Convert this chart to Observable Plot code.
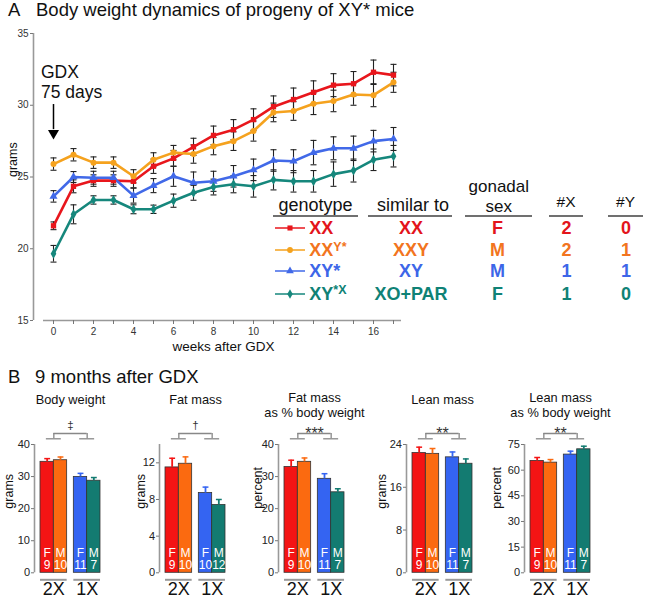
<!DOCTYPE html>
<html><head><meta charset="utf-8">
<script src="https://cdn.jsdelivr.net/npm/d3@7"></script>
<script src="https://cdn.jsdelivr.net/npm/@observablehq/plot@0.6"></script>
<style>
body{margin:0;background:#fff;font-family:"Liberation Sans",Arial,Helvetica,sans-serif;}
#root{position:relative;width:646px;height:597px;overflow:hidden;background:#fff;}
.abs{position:absolute;white-space:nowrap;}
</style></head><body><div id="root"></div>
<script>
// ---------- DATA ----------
const weeks = [0,1,2,3,4,5,6,7,8,9,10,11,12,13,14,15,16,17];
const genotypes = ["XX","XXY*","XY*","XY*X"];
const xxMean  = [21.6,24.35,24.75,24.75,24.7,25.75,26.3,27.1,27.9,28.3,29.0,29.9,30.4,30.9,31.4,31.5,32.3,32.1];
const xxyMean = [25.9,26.55,26.0,26.0,25.05,26.2,26.7,26.6,27.15,27.5,28.2,29.5,29.6,30.1,30.3,30.75,30.7,31.6];
const xyMean  = [23.65,25.0,24.95,24.95,23.7,24.4,25.05,24.6,24.7,25.05,25.5,26.15,26.1,26.7,27.0,27.0,27.5,27.65];
const xyxMean = [19.65,22.4,23.4,23.4,22.75,22.75,23.35,23.9,24.3,24.5,24.35,24.8,24.7,24.7,25.2,25.45,26.2,26.45];
const xxErr  = [0.27,0.45,0.4,0.4,0.45,0.5,0.55,0.6,0.65,0.7,0.75,0.75,0.8,0.8,0.8,0.85,0.85,0.75];
const xxyErr = [0.43,0.43,0.4,0.4,0.46,0.49,0.5,0.64,0.6,0.65,0.7,0.65,0.65,0.75,0.75,0.75,0.8,0.7];
const xyErr  = [0.4,0.38,0.45,0.45,0.52,0.49,0.7,0.75,0.7,0.75,0.75,0.75,0.8,0.85,0.8,0.85,0.75,0.8];
const xyxErr = [0.58,0.66,0.29,0.29,0.31,0.29,0.46,0.52,0.55,0.6,0.75,0.7,0.75,0.75,0.85,0.8,0.75,0.75];

// legend table
const genotypeBase = ["XX","XX","XY*","XY"];
const genotypeSup  = ["","Y*","","*X"];
const similarTo  = ["XX","XXY","XY","XO+PAR"];
const gonadalSex = ["F","M","M","F"];
const numX = [2,2,1,1];
const numY = [0,1,1,0];

// panel B
const barSex = ["F","M","F","M"];
const chromGroups = ["2X","1X"];
const barGroup = ["2X","2X","1X","1X"];
const bodyWeightMean = [34.6,35.1,29.9,28.7];
const bodyWeightErr  = [1.0,1.0,1.1,1.0];
const bodyWeightN    = [9,10,11,7];
const fatMassMean = [11.5,11.9,8.7,7.4];
const fatMassErr  = [1.0,0.75,0.65,0.6];
const fatMassN    = [9,10,10,12];
const fatPctMean = [33.0,34.6,29.3,25.1];
const fatPctErr  = [2.1,1.2,1.6,1.1];
const fatPctN    = [9,10,11,7];
const leanMassMean = [22.4,22.25,21.6,20.4];
const leanMassErr  = [1.1,1.0,1.0,0.9];
const leanMassN    = [9,10,11,7];
const leanPctMean = [65.4,64.4,69.1,72.2];
const leanPctErr  = [2.0,1.8,2.0,1.8];
const leanPctN    = [9,10,11,7];
const panelTitles = ["Body weight","Fat mass","Fat mass\nas % body weight","Lean mass","Lean mass\nas % body weight"];
const panelUnits  = ["grams","grams","percent","grams","percent"];
const panelTicks  = [[0,10,20,30,40],[0,4,8,12],[0,10,20,30,40],[0,8,16,24],[0,15,30,45,60,75]];
const panelMax    = [40,14,40,24,75];
const panelSig    = ["‡","†","***","**","**"];

// ---------- STYLE ----------
const FONT = "'Liberation Sans', Arial, Helvetica, sans-serif";
const lineColors = ["#e8161c","#f5a21e","#4169e8","#16877c"];
const legendTextColors = ["#e3141b","#f27420","#3d66e8","#0f8276"];
const barColors = ["#f41414","#fb6a10","#3464f2","#137b71"];
const symbols = ["square","circle","triangle","diamond"];
const root = document.getElementById("root");

function place(html, o) {
  const d = document.createElement("div");
  const L = o.lh || o.size;
  d.className = "abs";
  d.style.fontSize = o.size + "px";
  d.style.lineHeight = L + "px";
  d.style.top = (o.baseline - ((L - 1.117 * o.size) / 2 + 0.905 * o.size)) + "px";
  if (o.cx != null) { d.style.left = (o.cx - 100) + "px"; d.style.width = "200px"; d.style.textAlign = "center"; }
  else d.style.left = o.left + "px";
  d.style.color = o.color || "#111";
  d.style.fontWeight = o.weight || "normal";
  d.innerHTML = html;
  root.appendChild(d);
}
function put(svg, left, top) {
  svg.style.position = "absolute";
  svg.style.left = left + "px";
  svg.style.top = top + "px";
  root.appendChild(svg);
}

// ---------- PANEL A ----------
const series = [xxMean, xxyMean, xyMean, xyxMean];
const errs = [xxErr, xxyErr, xyErr, xyxErr];
const topData = genotypes.flatMap((g, gi) => weeks.map((w, i) => ({g, week: w, v: series[gi][i], e: errs[gi][i]})));
const cap = 0.15;
const gdx = [{week: 0}];

const topPlot = Plot.plot({
  width: 646, height: 360, marginLeft: 33, marginRight: 243, marginTop: 33, marginBottom: 40,
  x: {domain: [-1, 17.5]},
  y: {domain: [15, 35]},
  color: {domain: genotypes, range: lineColors},
  symbol: {domain: genotypes, range: symbols},
  style: {fontFamily: FONT, fontSize: "10px", color: "#333", background: "transparent", overflow: "visible"},
  marks: [
    Plot.ruleX([-1], {y1: 15, y2: 35, stroke: "#999", strokeWidth: 1.6}),
    Plot.ruleY([15], {x1: -0.5, x2: 17.4, stroke: "#999", strokeWidth: 1.6}),
    Plot.axisY({ticks: [15,20,25,30,35], tickSize: 3, tickPadding: 2, label: null, stroke: "#777"}),
    Plot.axisX({ticks: weeks, tickSize: 4, tickPadding: 3, tickFormat: d => d % 2 ? "" : d, label: null, stroke: "#777"}),
    Plot.text(["grams"], {frameAnchor: "left", rotate: -90, dx: -21, fontSize: 12.5, fill: "#111"}),
    Plot.text([{w: 8.5, t: "weeks after GDX"}], {x: "w", text: "t", frameAnchor: "bottom", lineAnchor: "bottom", dy: 30.7, fontSize: 13.5, fill: "#111"}),
    // error bars
    Plot.ruleX(topData, {x: "week", y1: d => d.v - d.e, y2: d => d.v + d.e, stroke: "#222", strokeWidth: 1.1}),
    Plot.link(topData, {x1: d => d.week - cap, x2: d => d.week + cap, y1: d => d.v + d.e, y2: d => d.v + d.e, stroke: "#222", strokeWidth: 1.1}),
    Plot.link(topData, {x1: d => d.week - cap, x2: d => d.week + cap, y1: d => d.v - d.e, y2: d => d.v - d.e, stroke: "#222", strokeWidth: 1.1}),
    // lines + markers
    Plot.line(topData, {x: "week", y: "v", z: "g", stroke: "g", strokeWidth: 2.6}),
    Plot.dot(topData, {x: "week", y: "v", fill: "g", symbol: "g", r: 3, stroke: "none"}),
    // GDX annotation
    Plot.ruleX(gdx, {x: "week", y1: 30.05, y2: 28.3, stroke: "#000", strokeWidth: 1.5}),
    Plot.dot(gdx, {x: "week", y: 28.06, symbol: "triangle", rotate: 180, r: 4.1, fill: "#000", stroke: "none"}),
    Plot.text(gdx, {x: "week", y: 30.54, text: () => "GDX", dx: -12.6, dy: -20, textAnchor: "start", lineAnchor: "bottom", fontSize: 17.5, fill: "#111"}),
    Plot.text(gdx, {x: "week", y: 30.54, text: () => "75 days", dx: -12.6, textAnchor: "start", lineAnchor: "bottom", fontSize: 17.5, fill: "#111"})
  ]
});
put(topPlot, 0, 0);

place("A", {left: 8, baseline: 17, size: 18.5});
place("Body weight dynamics of progeny of XY* mice", {left: 36, baseline: 17, size: 18.5});

// legend table
const headers = [
  {t: "genotype", cx: 315.5, b: 211.5, s: 18, x1: 273, x2: 358},
  {t: "similar to", cx: 413, b: 211.5, s: 18, x1: 368, x2: 452},
  {t: "gonadal", cx: 498.8, b: 193, s: 17, lh: 14, x1: 465, x2: 532},
  {t: "sex", cx: 498.8, b: 212.5, s: 17, lh: 14},
  {t: "#X", cx: 566, b: 207.5, s: 15.5, x1: 549, x2: 583},
  {t: "#Y", cx: 625.5, b: 207.5, s: 15.5, x1: 608, x2: 643}
];
headers.forEach(h => {
  place(h.t, {cx: h.cx, baseline: h.b, size: h.s, lh: h.lh});
  if (h.x1 != null) {
    const u = document.createElement("div");
    u.className = "abs";
    Object.assign(u.style, {left: h.x1 + "px", width: (h.x2 - h.x1) + "px", top: "214.5px", height: "2px", background: "#707070"});
    root.appendChild(u);
  }
});
const rowBase = [234.3, 256, 277.6, 300.6];
const symbolTypes = {square: d3.symbolSquare, circle: d3.symbolCircle, triangle: d3.symbolTriangle, diamond: d3.symbolDiamond};
genotypes.forEach((g, i) => {
  const b = rowBase[i], col = legendTextColors[i], S = 18;
  const cy = b - 6.4;
  const ns = "http://www.w3.org/2000/svg";
  const s = document.createElementNS(ns, "svg");
  s.setAttribute("width", 34); s.setAttribute("height", 14);
  s.style.position = "absolute"; s.style.left = "272px"; s.style.top = (cy - 7) + "px";
  const ln = document.createElementNS(ns, "line");
  ln.setAttribute("x1", 3); ln.setAttribute("x2", 33); ln.setAttribute("y1", 7); ln.setAttribute("y2", 7);
  ln.setAttribute("stroke", lineColors[i]); ln.setAttribute("stroke-width", 1.5);
  s.appendChild(ln);
  const p = document.createElementNS(ns, "path");
  p.setAttribute("d", d3.symbol(symbolTypes[symbols[i]], 26)());
  p.setAttribute("transform", "translate(18,7)");
  p.setAttribute("fill", lineColors[i]);
  s.appendChild(p);
  root.appendChild(s);
  const sup = genotypeSup[i] ? `<span style="font-size:12.5px;position:relative;top:${i === 3 ? -6.5 : -4.5}px">${genotypeSup[i]}</span>` : "";
  place(genotypeBase[i] + sup, {left: 309.3, baseline: b, size: S, color: col, weight: "bold"});
  place(similarTo[i], {cx: 411, baseline: b, size: S, color: col, weight: "bold"});
  place(gonadalSex[i], {cx: 497.5, baseline: b, size: S, color: col, weight: "bold"});
  place(String(numX[i]), {cx: 566.5, baseline: b, size: S, color: col, weight: "bold"});
  place(String(numY[i]), {cx: 626, baseline: b, size: S, color: col, weight: "bold"});
});

// ---------- PANEL B ----------
place("B", {left: 8, baseline: 383.5, size: 18.5});
place("9 months after GDX", {left: 35, baseline: 384, size: 18.5});

const panelMeans = [bodyWeightMean, fatMassMean, fatPctMean, leanMassMean, leanPctMean];
const panelErrs  = [bodyWeightErr, fatMassErr, fatPctErr, leanMassErr, leanPctErr];
const panelNs    = [bodyWeightN, fatMassN, fatPctN, leanMassN, leanPctN];
const panelAxisX = [34.3, 159, 278.3, 406, 524];
const labelDx    = [-26, -19, -21, -24.3, -27.3];
const GAP = 0.5, PX = 13.333, ML = 45, W = 120, SVG_TOP = 380, FRAME_TOP = 444, FRAME_BOTTOM = 572.3;
const xDomain = [-0.45, 4.7];
const posOf = i => chromGroups.indexOf(barGroup[i]) * (2 + GAP) + (i % 2);

panelTitles.forEach((title, pi) => {
  const max = panelMax[pi];
  const bars = genotypes.map((g, i) => ({g, sex: barSex[i], n: String(panelNs[pi][i]), v: panelMeans[pi][i], e: panelErrs[pi][i], pos: posOf(i)}));
  const groups = chromGroups.map((name) => {
    const ps = bars.filter((b, i) => barGroup[i] === name).map(b => b.pos);
    const start = d3.min(ps), end = d3.max(ps) + 1;
    return {name, start, end, c: (start + end) / 2};
  });
  const k = max / (FRAME_BOTTOM - FRAME_TOP);
  const yTop = max + 11 * k, yMid = max + 5.7 * k;
  const isStar = panelSig[pi].startsWith("*");
  const titleLines = title.split("\n").map((t, li, arr) => ({t, li, n: arr.length}));
  const svg = Plot.plot({
    width: W, height: 225,
    marginLeft: ML, marginRight: W - ML - (xDomain[1] - xDomain[0]) * PX,
    marginTop: FRAME_TOP - SVG_TOP, marginBottom: 225 - (FRAME_BOTTOM - SVG_TOP),
    x: {domain: xDomain, axis: null},
    y: {domain: [0, max]},
    color: {domain: genotypes, range: barColors},
    style: {fontFamily: FONT, fontSize: "11px", color: "#222", background: "transparent", overflow: "visible"},
    marks: [
      Plot.ruleX([xDomain[0]], {y1: 0, y2: max, stroke: "#999", strokeWidth: 1.6}),
      Plot.axisY({ticks: panelTicks[pi], tickSize: 3, tickPadding: 1.5, label: null, stroke: "#777", fontSize: 11}),
      Plot.text([panelUnits[pi]], {frameAnchor: "left", rotate: -90, dx: labelDx[pi], fontSize: 12.5, fill: "#111"}),
      Plot.text(titleLines.filter(d => d.li === 0), {x: 2.25, text: "t", frameAnchor: "top", lineAnchor: "bottom", dy: titleLines.length > 1 ? -42.6 : -40.7, fontSize: 12.8, fill: "#111"}),
      Plot.text(titleLines.filter(d => d.li === 1), {x: 2.25, text: "t", frameAnchor: "top", lineAnchor: "bottom", dy: -27.6, fontSize: 12.8, fill: "#111"}),
      Plot.rect(bars, {x1: "pos", x2: d => d.pos + 1, y1: 0, y2: "v", fill: "g", stroke: "#333", strokeWidth: 0.8}),
      Plot.ruleX(bars, {x: d => d.pos + 0.5, y1: "v", y2: d => d.v + d.e, stroke: "g", strokeWidth: 1.8}),
      Plot.link(bars, {x1: d => d.pos + 0.28, x2: d => d.pos + 0.72, y1: d => d.v + d.e, y2: d => d.v + d.e, stroke: "g", strokeWidth: 1.5}),
      Plot.text(bars, {x: d => d.pos + 0.5, y: 0, text: "sex", fill: "white", fontSize: 12, lineAnchor: "bottom", dy: -16.3}),
      Plot.text(bars, {x: d => d.pos + 0.5, y: 0, text: "n", fill: "white", fontSize: 12, lineAnchor: "bottom", dy: -3.8}),
      Plot.ruleY(groups, {y: 0, x1: "start", x2: "end", dy: 7, stroke: "#999", strokeWidth: 2}),
      Plot.text(groups, {x: "c", y: 0, text: "name", lineAnchor: "bottom", dy: 21.7, fontSize: 18, fill: "#111"}),
      Plot.ruleY([yTop], {x1: groups[0].c, x2: groups[1].c, stroke: "#888", strokeWidth: 1.3}),
      Plot.ruleX(groups, {x: "c", y1: yMid, y2: yTop, stroke: "#888", strokeWidth: 1.3}),
      Plot.ruleY(groups, {y: yMid, x1: d => d.c - 0.56, x2: d => d.c + 0.56, stroke: "#888", strokeWidth: 1.3}),
      Plot.text([panelSig[pi]], {x: (groups[0].c + groups[1].c) / 2, y: max, lineAnchor: "bottom",
        dy: isStar ? -5.4 : -15.5, fontSize: isStar ? 16 : 11.5, fill: "#333"})
    ]
  });
  put(svg, panelAxisX[pi] - ML, SVG_TOP);
});
</script>
</body></html>
